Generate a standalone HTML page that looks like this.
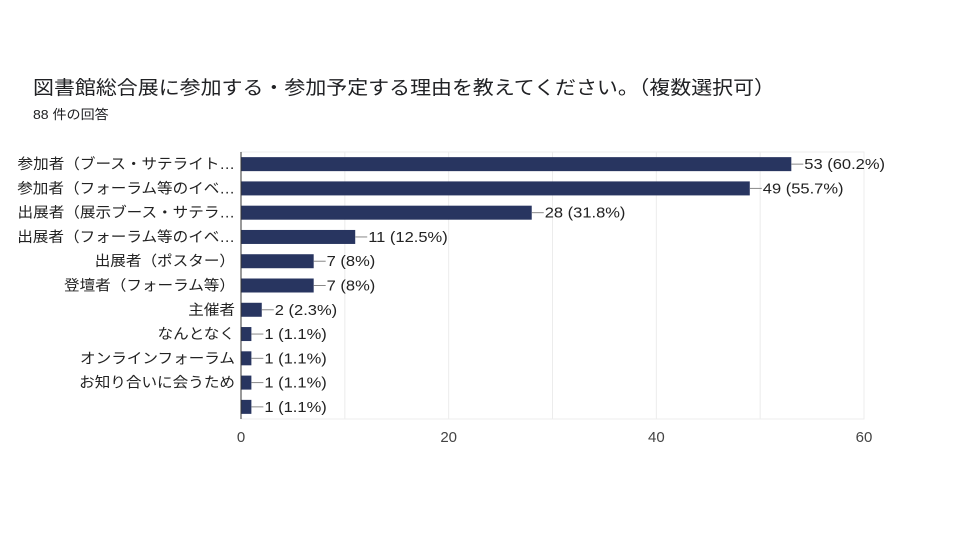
<!DOCTYPE html>
<html><head><meta charset="utf-8">
<style>
body{margin:0;background:#fff;width:960px;height:540px;overflow:hidden;font-family:"Liberation Sans","Noto Sans CJK JP",sans-serif;}
</style></head>
<body>
<svg id="chart" width="960" height="540" xmlns="http://www.w3.org/2000/svg" font-family="Liberation Sans, Noto Sans CJK JP, sans-serif">
<text id="title" x="33" y="94" font-size="19" fill="#202124">図書館総合展に参加する・参加予定する理由を教えてください。（複数選択可）</text>
<text id="sub" x="33" y="119" font-size="13" fill="#202124">88 件の回答</text>
<g id="plot"></g>
</svg>
<script>
const categories=["参加者（ブース・サテライト…","参加者（フォーラム等のイベ…","出展者（展示ブース・サテラ…","出展者（フォーラム等のイベ…","出展者（ポスター）","登壇者（フォーラム等）","主催者","なんとなく","オンラインフォーラム","お知り合いに会うため",""];
const values=[53,49,28,11,7,7,2,1,1,1,1];
const percents=["60.2%","55.7%","31.8%","12.5%","8%","8%","2.3%","1.1%","1.1%","1.1%","1.1%"];
const ticks=[0,20,40,60];
const minorTicks=[10,30,50];
const NS="http://www.w3.org/2000/svg";
const g=document.getElementById('plot');
const X0=241,X1=864,Y0=152,Y1=419,xmax=60;
const x=v=>X0+(X1-X0)*v/xmax;
const step=(Y1-Y0)/categories.length;
const yc=i=>Y0+step*(i+0.5);
function el(t,a){const e=document.createElementNS(NS,t);for(const k in a)e.setAttribute(k,a[k]);g.appendChild(e);return e;}
function widen(e,f){if(!e.textContent)return;const L=e.getComputedTextLength();if(L>0){e.setAttribute('textLength',L*f);e.setAttribute('lengthAdjust','spacingAndGlyphs');}}
const frame=el('rect',{x:X0,y:Y0,width:X1-X0,height:Y1-Y0,fill:'none',stroke:'#eeeeee'});


minorTicks.concat(ticks).forEach(t=>{
 const l=el('line',{x1:x(t),x2:x(t),y1:Y0,y2:Y1,stroke:'#ececec'});
 
 
});
ticks.forEach(t=>{
 const tx=el('text',{x:x(t),y:442,'font-size':15,fill:'#444','text-anchor':'middle'});
 tx.textContent=t;
 
 
});
categories.forEach((c,i)=>{
 const cy=yc(i);
 const lb=el('text',{x:235,y:cy+5,'font-size':14.5,fill:'#222','text-anchor':'end'});
 lb.textContent=c;
 
 
 widen(lb,1.075);
 const w=x(values[i])-X0;
 const b=el('rect',{x:X0,y:cy-7,width:w,height:14,fill:'#283560'});
 
 
 const ln=el('line',{x1:x(values[i]),x2:x(values[i])+12,y1:cy,y2:cy,stroke:'#888'});
 
 
 const vt=el('text',{x:x(values[i])+13,y:cy+5,'font-size':15,fill:'#222'});
 vt.textContent=values[i]+" ("+percents[i]+")";
 
 
 widen(vt,1.1);
});
const ax=el('line',{x1:X0,x2:X0,y1:Y0,y2:Y1,stroke:'#333'});


const tt=document.getElementById('title');
tt.setAttribute('textLength',742);tt.setAttribute('lengthAdjust','spacingAndGlyphs');
widen(document.getElementById('sub'),1.08);
</script>
</body></html>
